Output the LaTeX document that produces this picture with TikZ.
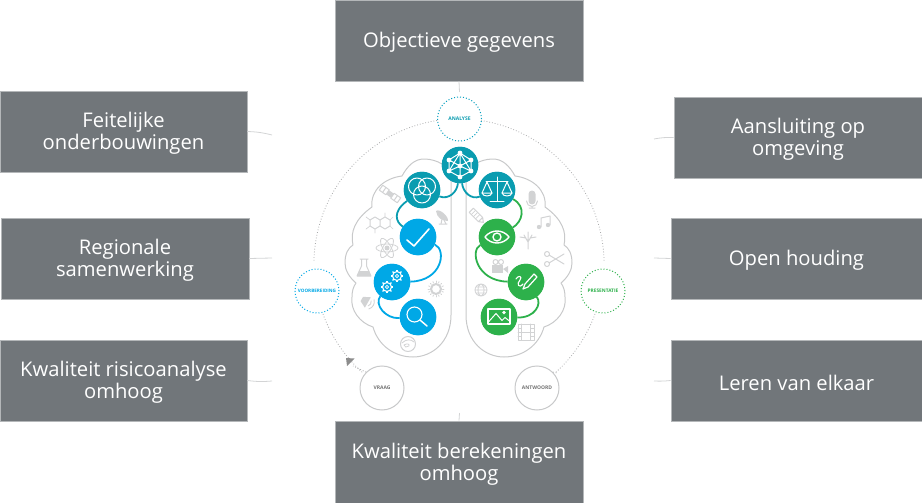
\documentclass[tikz,border=0pt]{standalone}
\usepackage{fontspec}
\setmainfont{Open Sans}
\definecolor{boxg}{HTML}{71767A}
\definecolor{boxedge}{HTML}{B4B7B9}
\definecolor{teal1}{HTML}{0A9CB0}
\definecolor{blue1}{HTML}{00A8E6}
\definecolor{green1}{HTML}{2DB14B}
\definecolor{lineg}{HTML}{C8C9CA}
\definecolor{icong}{HTML}{D2D3D4}
\tikzset{
 textbox/.style={fill=boxg,draw=boxedge,line width=.7pt,inner sep=0pt,minimum width=#1,minimum height=81pt},
 boxtext/.style={text=white,align=center,font=\fontsize{20.2}{22}\selectfont,inner sep=0pt,yshift=-2pt},
 stub/.style={draw=lineg!80,line width=.8pt},
 dial/.style={circle,fill=white,draw=#1,line width=1pt,dotted,minimum size=44pt,inner sep=0pt},
 plain/.style={circle,fill=white,draw=lineg,line width=1pt,minimum size=44pt,inner sep=0pt,text=black!55,font=\fontsize{5}{6}\selectfont\bfseries},
 disc/.style={circle,fill=#1,minimum size=36.5pt,inner sep=0pt},
 link/.style={draw=#1,line width=1.8pt},
 wl/.style={draw=white,line width=1pt,line cap=round,line join=round},
 gl/.style={draw=icong,line width=1pt,line cap=round,line join=round},
 brain/.style={draw=lineg,line width=1pt,line join=round},
 orbit/.style={draw=lineg!85!black,line width=.8pt,dotted}
}
\newcommand{\brainshape}{%
 \draw[brain] (451,181) -- (451,315) .. controls (451,342) and (432,357) .. (413,357) .. controls (394,357) and (378,345) .. (373,327)
 .. controls (360,323) and (350,310) .. (352,297) .. controls (352,292) and (353,287) .. (356,283)
 .. controls (349,277) and (345,270) .. (345,263) .. controls (345,254) and (348,248) .. (353,245)
 .. controls (350,232) and (355,219) .. (372,207) .. controls (370,190) and (385,178) .. (402,176)
 .. controls (408,165) and (415,159) .. (424,159) .. controls (431,159) and (437,161) .. (442,164);}
\begin{document}
\begin{tikzpicture}[x=1pt,y=-1pt]
\useasboundingbox (0,0) rectangle (922,503);
% orbit
\draw[orbit] (437,120.5) arc[start angle=-99,end angle=-179,radius=146];
\draw[orbit] (481,120.5) arc[start angle=-81,end angle=-1,radius=146];
\draw[orbit] (323,314) arc[start angle=160,end angle=132,radius=146];
\draw[orbit] (595,314) arc[start angle=20,end angle=48,radius=146];
% brain halves
\brainshape
\begin{scope}[xshift=917pt,xscale=-1]
\brainshape
\end{scope}
% discs
\node[disc=teal1] (hub) at (460,165) {};
\node[disc=teal1] (venn) at (422,190) {};
\node[disc=teal1] (scale) at (497,190) {};
\node[disc=blue1] (check) at (418,237) {};
\node[disc=green1] (eye) at (497,237) {};
\node[disc=blue1] (gears) at (392,282) {};
\node[disc=green1] (pen) at (526,282) {};
\node[disc=blue1] (search) at (418,317) {};
\node[disc=green1] (image) at (499,317) {};
% links
\draw[link=teal1] (hub) .. controls (457,192) and (449,200) .. (venn);
\draw[link=teal1] (hub) .. controls (463,192) and (471,200) .. (scale);
\draw[link=teal1] (venn) .. controls (392,212) and (396,222) .. (check);
\draw[link=green1] (scale) .. controls (527,207) and (522,222) .. (eye);
\draw[link=blue1] (check) .. controls (447,250) and (442,281) .. (gears);
\draw[link=blue1] (gears) .. controls (374,304) and (385,319) .. (search);
\draw[link=green1] (eye) .. controls (470,250) and (476,281) .. (pen);
\draw[link=green1] (pen) .. controls (542,304) and (535,318) .. (image);
% redraw discs on top
\foreach \n/\c in {hub/teal1,venn/teal1,scale/teal1,check/blue1,eye/green1,gears/blue1,pen/green1,search/blue1,image/green1}
 \fill[\c] (\n) circle (18.25pt);
% hub icon
\begin{scope}[shift={(460,165)}]
 \draw[wl] (0,-12) -- (-11,-5) -- (-11,6) -- (0,12) -- (11,6) -- (11,-5) -- cycle;
 \draw[wl] (0,-12) -- (0,12) (-11,-5) -- (0,1) -- (11,-5) (-11,6) -- (0,1) -- (11,6) (0,-12) -- (-11,6) (0,-12) -- (11,6);
 \foreach \p in {(0,-12),(-11,-5),(-11,6),(0,12),(11,6),(11,-5),(0,1)} \fill[white] \p circle (2.4pt);
\end{scope}
% venn icon
\begin{scope}[shift={(422,190)}]
 \draw[wl] (-5,-3.5) circle (8.5pt) (5,-3.5) circle (8.5pt) (0,4.5) circle (8.5pt);
\end{scope}
% scales icon
\begin{scope}[shift={(497,190)}]
 \draw[wl] (0,-13) -- (0,11) (-7,11) -- (7,11) (-11,-9) -- (11,-9);
 \draw[wl] (-10,-8) -- (-15,3) -- (-5,3) -- cycle (10,-8) -- (15,3) -- (5,3) -- cycle;
 \draw[wl] (-15,3) .. controls (-14,7) and (-6,7) .. (-5,3) (15,3) .. controls (14,7) and (6,7) .. (5,3);
\end{scope}
% check icon
\draw[wl,line width=1.6pt] (407,240) -- (414,246) -- (429,229);
% eye icon
\begin{scope}[shift={(497,237)}]
 \draw[wl,line width=1.4pt] (-12,0) .. controls (-6,-8) and (6,-8) .. (12,0) .. controls (6,8) and (-6,8) .. (-12,0) -- cycle;
 \draw[wl,line width=1.4pt] (0,0) circle (4pt);
\end{scope}
% gears icon
\foreach \x/\y in {397/276,387/287}{
 \draw[white,line width=1.1pt] (\x,\y) circle (4.5pt);
 \draw[white,line width=.8pt] (\x,\y) circle (1.6pt);
 \foreach \a in {0,45,...,315} \draw[white,line width=1.3pt] (\x,\y) ++(\a:4.5) -- ++(\a:1.8);
}
% search icon
\draw[wl,line width=1.1pt] (414.5,314.5) circle (7.5pt);
\draw[wl,line width=1.5pt] (420,320) -- (427,326);
% pen icon
\begin{scope}[shift={(526,282)}]
 \draw[wl,line width=1.2pt] (-3,7) -- (-1,2) -- (8,-8) -- (11,-5) -- (2,5) -- cycle;
 \draw[wl,line width=1.1pt] (-10,-3) .. controls (-8,-7) and (-3,-6) .. (-6,-2) .. controls (-10,2) and (-7,7) .. (-3,2);
\end{scope}
% image icon
\begin{scope}[shift={(499,316.5)}]
 \draw[wl,line width=1.2pt] (-11,-7.5) rectangle (11,7.5);
 \draw[wl,line join=miter] (-11,6) -- (-3,-3) -- (3,4) -- (6,1) -- (11,5);
 \fill[white] (5,-4) circle (1.8pt);
\end{scope}
% grey icons, left
\begin{scope}[shift={(390,194)},rotate=-35]
 \draw[gl] (-11,-3) rectangle (-3,3) (3,-3) rectangle (11,3); \draw[gl] (-7,-3)--(-7,3) (7,-3)--(7,3);
 \fill[icong] (-3,-2.5) rectangle (3,2.5);
\end{scope}
\begin{scope}[shift={(377,223)}]
 \draw[gl] (-7,-3) -- (-7,3) -- (-2,6) -- (3,3) -- (3,-3) -- (-2,-6) -- cycle (3,-3) -- (8,-6) -- (13,-3) -- (13,3) -- (8,6) -- (3,3);
 \draw[gl,line width=.7pt] (-7,-3)--(-11,-6) (-7,3)--(-11,6) (-2,6)--(-2,10) (8,-6)--(8,-10) (13,-3)--(16,-6) (13,3)--(16,6);
\end{scope}
\begin{scope}[shift={(442,216)}]
 \fill[icong] (-6,-5) .. controls (-5,2) and (0,5) .. (6,5) .. controls (7,1) and (-2,-8) .. (-6,-5) -- cycle;
 \draw[gl] (0,3) -- (-1,8) (2,4) -- (4,8) (-3,8) -- (5,8);
\end{scope}
\begin{scope}[shift={(387,248)}]
 \draw[gl,line width=.8pt] (0,0) ellipse (11pt and 4pt);
 \draw[gl,line width=.8pt,rotate=60] (0,0) ellipse (11pt and 4pt);
 \draw[gl,line width=.8pt,rotate=-60] (0,0) ellipse (11pt and 4pt);
 \fill[icong] (0,0) circle (2.5pt);
\end{scope}
\begin{scope}[shift={(364,268)}]
 \draw[gl] (-2.5,-9) -- (-2.5,-2) -- (-7,8) -- (7,8) -- (2.5,-2) -- (2.5,-9) (-4,-9) -- (4,-9);
 \fill[icong] (-5,3) -- (-7,8) -- (7,8) -- (5,3) -- cycle;
\end{scope}
\begin{scope}[shift={(436,289)}]
 \foreach \a in {0,22.5,...,337.5} \draw[gl,line width=.8pt] (\a:6.5) -- (\a:8);
 \draw[gl,line width=2pt] (0,0) circle (5pt);
\end{scope}
\begin{scope}[shift={(367,302)},rotate=-30]
 \fill[icong] (-6,-2.5) -- (1,-6) -- (1,6) -- (-6,2.5) -- cycle;
 \draw[gl,line width=.9pt] (3,-3) arc[start angle=-45,end angle=45,radius=4] (5,-5.5) arc[start angle=-45,end angle=45,radius=7.5];
\end{scope}
\begin{scope}[shift={(408,344)}]
 \draw[gl] (0,0) circle (7.5pt);
 \draw[gl,line width=.8pt] (-6,-1) .. controls (-2,-5) and (3,-5) .. (6,-2) (-4,1) .. controls (-1,-1) and (2,0) .. (1,2) .. controls (-1,4) and (-4,3) .. (-4,1);
\end{scope}
% grey icons, right
\begin{scope}[shift={(477,216)},rotate=-45]
 \draw[gl] (-8,-3) rectangle (5,3) (5,-3) -- (9,0) -- (5,3);
 \draw[gl,line width=.8pt] (-5,-3)--(-5,3) (-2,-3)--(-2,3) (1,-3)--(1,3);
\end{scope}
\begin{scope}[shift={(532,199)}]
 \fill[icong] (-3.5,-5) arc[start angle=180,end angle=360,radius=3.5] -- (3.5,2) arc[start angle=0,end angle=180,radius=3.5] -- cycle;
 \draw[gl] (-5.5,2) arc[start angle=180,end angle=0,radius=5.5] (0,7.5) -- (0,9) (-3,9) -- (3,9);
\end{scope}
\begin{scope}[shift={(544,223)}]
 \draw[gl] (-3,4) -- (-3,-5) -- (6,-7) -- (6,2);
 \fill[icong] (-5,4) circle (2.2pt) (4,2) circle (2.2pt);
\end{scope}
\begin{scope}[shift={(528,240)}]
 \draw[gl] (0,-1) -- (0,9) (0,2) -- (-4,-5) (0,2) -- (4,-5) (0,-1) -- (0,-8) (-2,-2) -- (-8,-3) (2,-2) -- (8,-3);
\end{scope}
\begin{scope}[shift={(555,259)}]
 \draw[gl] (-8,-5) circle (2.5pt) (-8,5) circle (2.5pt) (-6,-4) -- (9,5) (-6,4) -- (9,-5);
\end{scope}
\begin{scope}[shift={(499,266)}]
 \fill[icong] (-7,-1) rectangle (4,7);
 \fill[icong] (4,3) -- (9,0) -- (9,7) -- cycle;
 \draw[gl] (-3.5,-4) circle (2.5pt) (2,-4) circle (2.5pt);
\end{scope}
\begin{scope}[shift={(481,290)}]
 \draw[gl,line width=.8pt] (0,0) circle (6pt) (0,0) ellipse (3pt and 6pt) (-6,0) -- (6,0) (-5,-3) -- (5,-3) (-5,3) -- (5,3);
\end{scope}
\begin{scope}[shift={(526,332)}]
 \draw[gl] (-8,-8) rectangle (8,8) (-4.5,-8) -- (-4.5,8) (4.5,-8) -- (4.5,8) (-4.5,0) -- (4.5,0);
 \draw[gl,line width=.7pt] (-8,-4) -- (-4.5,-4) (-8,0) -- (-4.5,0) (-8,4) -- (-4.5,4) (8,-4) -- (4.5,-4) (8,0) -- (4.5,0) (8,4) -- (4.5,4);
\end{scope}
% dials
\node[dial=teal1!70!blue1] (analyse) at (459.5,119) {};
\node[text=teal1,font=\fontsize{5}{6}\selectfont\bfseries] (analyselab) at (459.5,119) {ANALYSE};
\node[dial=blue1] (voorb) at (317,291) {};
\node[text=blue1,font=\fontsize{4.6}{6}\selectfont\bfseries] (voorblab) at (317,291) {VOORBEREIDING};
\node[dial=green1] (pres) at (603,291) {};
\node[text=green1,font=\fontsize{4.8}{6}\selectfont\bfseries] (preslab) at (603,291) {PRESENTATIE};
\node[plain] (vraag) at (382,388) {VRAAG};
\node[plain] (antw) at (537,388) {ANTWOORD};
% orbit pieces that touch the plain circles
\draw[orbit] (vraag.135) -- (353,366);
\draw[orbit] (antw.45) -- (557,373);
% arrow
\coordinate (tip) at (346,358);
\fill[black!45] (tip) -- (354.5,358.5) -- (347,366) -- cycle;
% boxes
\node[textbox=248pt] (top) at (459,40.5) {};
\node[boxtext] (toptxt) at (top) {Objectieve gegevens};
\node[textbox=247pt] (l1) at (123.5,131.5) {};
\node[boxtext] (l1txt) at (l1) {Feitelijke\\onderbouwingen};
\node[textbox=248pt] (l2) at (125,258.5) {};
\node[boxtext] (l2txt) at (l2) {Regionale\\samenwerking};
\node[textbox=247pt] (l3) at (123.5,380.5) {};
\node[boxtext] (l3txt) at (l3) {Kwaliteit risicoanalyse\\omhoog};
\node[textbox=248pt] (r1) at (798,137.5) {};
\node[boxtext] (r1txt) at (r1) {Aansluiting op\\omgeving};
\node[textbox=251pt] (r2) at (796.5,258.5) {};
\node[boxtext] (r2txt) at (r2) {Open houding};
\node[textbox=251pt] (r3) at (796.5,380.5) {};
\node[boxtext] (r3txt) at (r3) {Leren van elkaar};
\node[textbox=248pt,minimum height=82pt] (bot) at (459,462) {};
\node[boxtext] (bottxt) at (bot) {Kwaliteit berekeningen\\omhoog};
% stubs
\coordinate (s1) at (272,135); \coordinate (s2) at (272,258); \coordinate (s3) at (272,381);
\coordinate (s4) at (654,139); \coordinate (s5) at (654,258); \coordinate (s6) at (654,381);
\coordinate (s7) at (459.5,92); \coordinate (s8) at (459.5,413);
\draw[stub] (l1.east) to[bend left=6] (s1);
\draw[stub] (l2.east) -- (s2);
\draw[stub] (l3.east) to[bend right=6] (s3);
\draw[stub] (r1.west) to[bend right=6] (s4);
\draw[stub] (r2.west) -- (s5);
\draw[stub] (r3.west) to[bend left=4] (s6);
\draw[stub] (top.south) -- (s7);
\draw[stub] (bot.north) -- (s8);
\end{tikzpicture}
\end{document}
